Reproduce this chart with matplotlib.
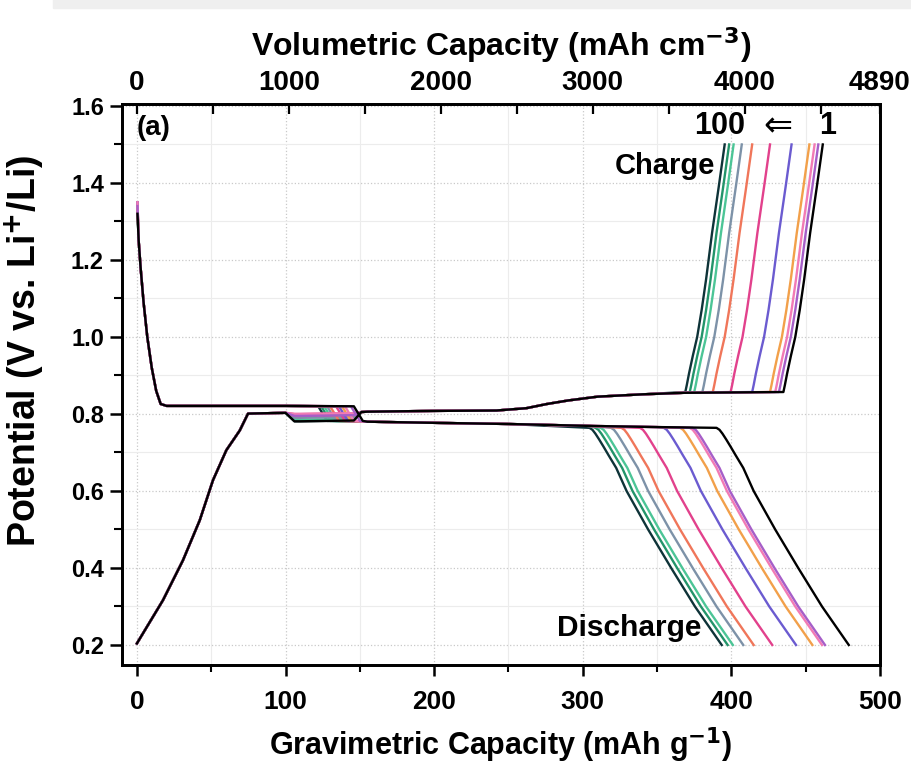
import numpy as np
import matplotlib
matplotlib.use("Agg")
import matplotlib.pyplot as plt
from matplotlib.patches import Rectangle
from matplotlib.ticker import MultipleLocator, FixedLocator

plt.rcParams["font.family"] = ["Liberation Sans", "DejaVu Sans"]
plt.rcParams["font.weight"] = "bold"
NARROW = ["Liberation Sans Narrow", "Liberation Sans", "DejaVu Sans"]

# cycles, drawn right (cycle 1) to left (cycle 100)
cycles = [1, 2, 5, 10, 20, 30, 40, 50, 60, 80, 100]
colors = ["#000000", "#a65ec8", "#f27bb5", "#f2a04a", "#6b5bd0", "#e2418c",
          "#f0765a", "#7d92a8", "#4cc596", "#23946a", "#0e3338"]
charge_end = [461.5, 458.5, 456.0, 452.5, 440.5, 426.0, 414.0, 407.0, 401.5, 398.5, 395.5]
discharge_end = [479.0, 463.0, 461.0, 454.5, 443.5, 427.5, 415.0, 408.0, 401.0, 397.5, 393.5]
start_v = [1.32, 1.34, 1.35, 1.34, 1.35, 1.35, 1.34, 1.33, 1.33, 1.33, 1.33]
dis_step_x = [146, 144, 140, 138, 136, 134, 130, 128, 126, 124, 122]
chg_dip_v = [0.781, 0.795, 0.800, 0.798, 0.796, 0.800, 0.795, 0.790, 0.785, 0.783, 0.781]

# discharge: drop from OCV, upper plateau, step, lower plateau
dis_head_x = [0.4, 1.2, 2.5, 4.5, 7, 10, 13, 16, 20, 60, 100]
dis_head_v = [0.0, 1.25, 1.18, 1.09, 1.00, 0.92, 0.86, 0.826, 0.821, 0.821, 0.821]
dis_plat_x = [200, 250, 305, 350, 395]
dis_plat_v = [0.777, 0.774, 0.769, 0.766, 0.763]
# discharge tail relative to the knee
dis_tail_dx = [0, 2, 4, 6.5, 9.5, 13, 18, 25, 39.5, 55, 71, 89]
dis_tail_v = [0.764, 0.759, 0.749, 0.734, 0.715, 0.692, 0.660, 0.600, 0.500, 0.400, 0.300, 0.200]

# charge: rise, small dip, rising plateau, knee
chg_head_x = [0, 17.5, 31, 42.3, 51.2, 60.2, 69.2, 74.8, 100]
chg_head_v = [0.204, 0.316, 0.42, 0.524, 0.628, 0.706, 0.757, 0.801, 0.803]
chg_plat_x = [155, 200, 242, 262, 276, 290, 310, 340, 368, 440]
chg_plat_v = [0.806, 0.808, 0.809, 0.815, 0.826, 0.835, 0.845, 0.851, 0.855, 0.858]
chg_tail_dx = [0, 1, 2.5, 5, 8, 11, 14, 18, 22.5, 26.5]
chg_tail_v = [0.857, 0.875, 0.905, 0.95, 1.00, 1.07, 1.15, 1.27, 1.39, 1.50]

fig = plt.figure(figsize=(9.12, 7.74), dpi=100)
fig.patches.append(Rectangle((0.058, 0.99), 0.95, 0.02, transform=fig.transFigure,
                             color="#efefef", zorder=0))
ax = fig.add_axes([0.1338, 0.1408, 0.8311, 0.7248])

for i in reversed(range(len(cycles))):
    c = colors[i]
    # discharge
    knee = discharge_end[i] - 89
    hx = list(dis_head_x) + [dis_step_x[i], dis_step_x[i] + 6, 155]
    hv = [start_v[i]] + list(dis_head_v[1:]) + [0.820, 0.782, 0.780]
    px = [x for x in dis_plat_x if x < knee - 3]
    pv = [v for x, v in zip(dis_plat_x, dis_plat_v) if x < knee - 3]
    tx = [knee + d for d in dis_tail_dx]
    ax.plot(hx + px + tx, hv + pv + dis_tail_v, color=c, lw=1.7, zorder=3)
    # charge
    ck = charge_end[i] - 26.5
    cx = list(chg_head_x) + [106, 110, 146, 151]
    cv = list(chg_head_v) + [chg_dip_v[i], chg_dip_v[i], chg_dip_v[i] + 0.002, 0.805]
    qx = [x for x in chg_plat_x if x < ck - 2]
    qv = [v for x, v in zip(chg_plat_x, chg_plat_v) if x < ck - 2]
    rx = [ck + d for d in chg_tail_dx]
    ax.plot(cx + qx + rx, cv + qv + chg_tail_v, color=c, lw=1.7, zorder=3)

ax.set_xlim(-10, 500)
ax.set_ylim(0.148, 1.605)
ax.xaxis.set_major_locator(MultipleLocator(100))
ax.xaxis.set_minor_locator(MultipleLocator(50))
ax.yaxis.set_major_locator(FixedLocator([0.2, 0.4, 0.6, 0.8, 1.0, 1.2, 1.4, 1.6]))
ax.yaxis.set_minor_locator(FixedLocator([0.3, 0.5, 0.7, 0.9, 1.1, 1.3, 1.5]))
ax.set_yticklabels(["0.2", "0.4", "0.6", "0.8", "1.0", "1.2", "1.4", "1.6"])
ax.tick_params(axis="x", which="major", direction="out", length=8, width=1.8, pad=10)
ax.tick_params(axis="x", which="minor", direction="out", length=5, width=1.5)
ax.tick_params(axis="y", which="major", direction="out", length=9, width=1.8, pad=4)
ax.tick_params(axis="y", which="minor", direction="out", length=6, width=1.5)
ax.tick_params(top=False, right=False, which="both")
for lab in ax.get_xticklabels():
    lab.set_fontfamily(NARROW)
    lab.set_fontsize(19)
    lab.set_fontweight("bold")
for lab in ax.get_yticklabels():
    lab.set_fontsize(17)
    lab.set_fontweight("bold")
for s in ax.spines.values():
    s.set_linewidth(2.0)

ax.grid(True, which="major", color="#c9c9c9", lw=0.9, ls=":")
ax.grid(True, which="minor", color="#ececec", lw=0.8, ls="-")
ax.set_axisbelow(True)

ax.set_xlabel(r"Gravimetric Capacity (mAh g$^{\mathbf{-1}}$)", fontsize=22,
              fontweight="bold", family=NARROW)
ax.xaxis.set_label_coords(0.5, -0.108)
ax.set_ylabel(r"Potential (V vs. Li$^{\mathbf{+}}$/Li)", fontsize=27, fontweight="bold")
ax.yaxis.set_label_coords(-0.1, 0.56)

# top axis: volumetric capacity
ax2 = ax.twiny()
ax2.set_xlim(-10 * 9.78, 500 * 9.78)
ax2.xaxis.set_major_locator(FixedLocator([0, 1000, 2000, 3000, 4000, 4890]))
ax2.xaxis.set_minor_locator(FixedLocator([500, 1500, 2500, 3500, 4500]))
ax2.set_xticklabels(["0", "1000", "2000", "3000", "4000", "4890"])
ax2.tick_params(axis="x", which="both", direction="in", length=7, width=1.6, pad=6)
for lab in ax2.get_xticklabels():
    lab.set_fontfamily(NARROW)
    lab.set_fontsize(20)
    lab.set_fontweight("bold")
ax2.set_xlabel(r"Volumetric Capacity (mAh cm$^{\mathbf{-3}}$)", fontsize=23,
               fontweight="bold", family=NARROW, labelpad=10)
for s in ax2.spines.values():
    s.set_linewidth(2.0)

ax.text(0.042, 0.958, "(a)", transform=ax.transAxes, fontsize=20, fontweight="bold",
        ha="center", va="center")
ax.text(392, 1.548, "100", fontsize=22, fontweight="bold", ha="center", va="center")
ax.text(431.5, 1.548, "\u21d0", fontsize=25, ha="center", va="center",
        family=["DejaVu Sans"], fontweight="normal")
ax.text(465, 1.548, "1", fontsize=22, fontweight="bold", ha="center", va="center")
ax.text(355.5, 1.443, "Charge", fontsize=21, fontweight="bold", ha="center", va="center")
ax.text(331, 0.243, "Discharge", fontsize=21.5, fontweight="bold", ha="center", va="center")

fig.savefig("out.png", dpi=100)
